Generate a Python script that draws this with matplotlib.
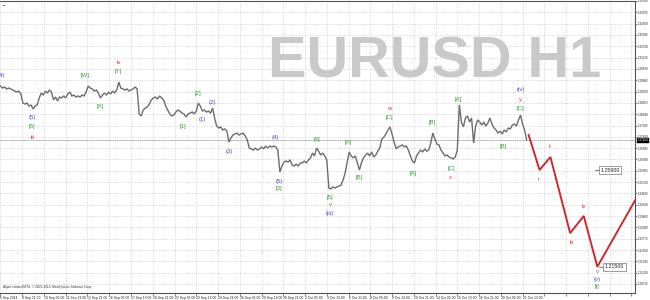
import numpy as np
import matplotlib
matplotlib.use("Agg")
import matplotlib.pyplot as plt
from matplotlib.transforms import blended_transform_factory

# ---------------- data (EURUSD H1, one value every 3 hourly bars) ----------------
close = [
    1.2972, 1.2963, 1.2968, 1.2959, 1.2963, 1.2959, 1.2954, 1.2949, 1.2945, 1.2949,
    1.2936, 1.2895, 1.2890, 1.2895, 1.2881, 1.2886, 1.2868, 1.2881, 1.2886, 1.2918,
    1.2940, 1.2931, 1.2949, 1.2940, 1.2954, 1.2945, 1.2909, 1.2922, 1.2904, 1.2922,
    1.2918, 1.2927, 1.2918, 1.2936, 1.2945, 1.2927, 1.2931, 1.2922, 1.2927, 1.2922,
    1.2931, 1.2927, 1.2945, 1.2972, 1.2963, 1.2959, 1.2949, 1.2954, 1.2940, 1.2918,
    1.2931, 1.2940, 1.2931, 1.2945, 1.2936, 1.2949, 1.2940, 1.2954, 1.2990, 1.2963,
    1.2959, 1.2954, 1.2959, 1.2949, 1.2954, 1.2959, 1.2968, 1.2959, 1.2845, 1.2836,
    1.2863, 1.2872, 1.2877, 1.2890, 1.2909, 1.2918, 1.2922, 1.2913, 1.2927, 1.2918,
    1.2909, 1.2881, 1.2863, 1.2845, 1.2836, 1.2840, 1.2854, 1.2863, 1.2858, 1.2849,
    1.2845, 1.2831, 1.2845, 1.2849, 1.2854, 1.2845, 1.2858, 1.2895, 1.2881, 1.2858,
    1.2863, 1.2854, 1.2858, 1.2849, 1.2872, 1.2827, 1.2790, 1.2781, 1.2786, 1.2772,
    1.2777, 1.2767, 1.2717, 1.2736, 1.2749, 1.2754, 1.2758, 1.2749, 1.2754, 1.2758,
    1.2745, 1.2727, 1.2690, 1.2686, 1.2681, 1.2690, 1.2681, 1.2686, 1.2695, 1.2686,
    1.2699, 1.2690, 1.2699, 1.2695, 1.2699, 1.2695, 1.2681, 1.2581, 1.2608, 1.2626,
    1.2631, 1.2626, 1.2636, 1.2613, 1.2608, 1.2617, 1.2608, 1.2622, 1.2622, 1.2631,
    1.2622, 1.2636, 1.2645, 1.2667, 1.2654, 1.2690, 1.2676, 1.2658, 1.2667, 1.2654,
    1.2636, 1.2508, 1.2504, 1.2513, 1.2508, 1.2513, 1.2517, 1.2522, 1.2545, 1.2576,
    1.2626, 1.2672, 1.2654, 1.2645, 1.2654, 1.2622, 1.2590, 1.2622, 1.2645, 1.2658,
    1.2667, 1.2654, 1.2672, 1.2649, 1.2658, 1.2676, 1.2690, 1.2731, 1.2740, 1.2754,
    1.2772, 1.2786, 1.2754, 1.2717, 1.2686, 1.2695, 1.2699, 1.2704, 1.2695, 1.2699,
    1.2681, 1.2654, 1.2631, 1.2622, 1.2654, 1.2667, 1.2681, 1.2672, 1.2686, 1.2676,
    1.2681, 1.2713, 1.2758, 1.2731, 1.2708, 1.2704, 1.2681, 1.2667, 1.2654, 1.2658,
    1.2649, 1.2645, 1.2640, 1.2649, 1.2681, 1.2886, 1.2808, 1.2786, 1.2827, 1.2836,
    1.2808, 1.2827, 1.2713, 1.2790, 1.2818, 1.2808, 1.2795, 1.2808, 1.2790, 1.2804,
    1.2827, 1.2799, 1.2781, 1.2772, 1.2758, 1.2767, 1.2754, 1.2772, 1.2763, 1.2781,
    1.2777, 1.2795, 1.2799, 1.2790, 1.2818, 1.2840, 1.2799, 1.2772, 1.2727,
]
bar_step = 3
bars = np.arange(len(close)) * bar_step

bid_price = 1.2726

# projected wave path (bar index, price)
proj_bars = [777, 793, 809, 838, 858, 878, 940]
proj_prices = [1.2749, 1.2590, 1.2649, 1.2303, 1.2381, 1.2150, 1.2487]

# price labels
target_prices = [1.25900, 1.21500]
target_bars = [874, 881]

# wave labels
wave_names = ["(4)", "(5)", "[5]", "iii", "[W]", "[X]", "[Y]", "iv", "[1]", "[2]",
              "(1)", "(2)", "(3)", "(4)", "(5)", "[3]", "[4]", "[5]", "v", "(iii)",
              "[A]", "[B]", "[C]", "w", "[A]", "[B]", "[C]", "x", "[A]", "[B]",
              "[C]", "y", "(iv)", "i", "ii", "iii", "iv", "v", "(v)", "[i]"]
wave_bars = [1, 47, 47, 47, 125, 147, 174, 174, 269, 290,
             297, 312, 337, 405, 410, 410, 465, 485, 485, 485,
             512, 528, 572, 572, 608, 635, 663, 662, 674, 740,
             765, 765, 765, 791, 809, 840, 858, 878, 878, 878]
wave_prices = [1.3018, 1.2831, 1.2786, 1.2740, 1.3022, 1.2877, 1.3036, 1.3081, 1.2786, 1.2940,
               1.2822, 1.2899, 1.2672, 1.2740, 1.2540, 1.2504, 1.2731, 1.2467, 1.2431, 1.2394,
               1.2713, 1.2554, 1.2827, 1.2868, 1.2572, 1.2804, 1.2599, 1.2558, 1.2913, 1.2695,
               1.2868, 1.2911, 1.2956, 1.2549, 1.2695, 1.2262, 1.2422, 1.2130, 1.2094, 1.2058]
wave_degree = ["b", "b", "g", "r", "g", "g", "g", "r", "g", "g",
               "b", "b", "b", "b", "b", "g", "g", "g", "r", "b",
               "g", "g", "g", "r", "g", "g", "g", "r", "g", "g",
               "g", "r", "b", "r", "o", "r", "r", "r", "b", "g"]

y_ticks = [1.33590, 1.33075, 1.32560, 1.32045, 1.31530, 1.31015, 1.30500, 1.29985,
           1.29470, 1.28955, 1.28440, 1.27925, 1.27410, 1.26895, 1.26380, 1.25865,
           1.25350, 1.24835, 1.24320, 1.23805, 1.23290, 1.22775, 1.22260, 1.21745,
           1.21230, 1.20715]

x_labels = ["5 Sep 2014", "8 Sep 21:00", "10 Sep 05:00", "11 Sep 13:00", "12 Sep 21:00",
            "16 Sep 05:00", "17 Sep 13:00", "18 Sep 21:00", "22 Sep 05:00", "23 Sep 13:00",
            "24 Sep 21:00", "26 Sep 05:00", "29 Sep 13:00", "30 Sep 21:00", "2 Oct 05:00",
            "3 Oct 13:00", "6 Oct 21:00", "8 Oct 05:00", "9 Oct 13:00", "10 Oct 21:00",
            "14 Oct 05:00", "15 Oct 13:00", "16 Oct 21:00", "20 Oct 05:00", "21 Oct 13:00"]
label_every = 32

# ---------------- style ----------------
plt.rcParams['font.family'] = ['Liberation Sans', 'DejaVu Sans']
colors = {"b": "#4646d8", "g": "#3a9e3a", "r": "#cc3c3c", "o": "#e67a52"}
grid_c = "#cacaca"
axis_c = "#555555"

fig = plt.figure(figsize=(6.5, 3.0), dpi=100)
fig.patch.set_facecolor("white")
ax = fig.add_axes([0.0, 7 / 300, 635 / 650, 292 / 300])
ax.set_facecolor("white")

x_max = 933.4
ax.set_xlim(-0.7, x_max)
ax.set_ylim(1.20304, 1.33590)

# watermark
ax.text(268 / 650, 1 - 78 / 300, "EURUSD H1", transform=fig.transFigure,
        fontsize=41.5, fontweight="bold", color="#c9c9c9", ha="left",
        va="baseline", zorder=0.5)

# grid
xt = np.arange(0, x_max, label_every)
ax.set_xticks(xt)
ax.set_xticklabels(x_labels + [""] * (len(xt) - len(x_labels)), ha="left")
ax.set_yticks(y_ticks)
ax.set_yticklabels(["%.5f" % v for v in y_ticks])
ax.grid(True, color=grid_c, linestyle=(0, (1, 1.5)), linewidth=0.6, zorder=1)
ax.set_axisbelow(True)

# bid line
ax.axhline(bid_price, color="#c0c0c0", linewidth=0.7, zorder=1.5)

# price
ax.plot(bars, close, color="#6c6c6c", linewidth=1.0, zorder=3,
        solid_joinstyle="miter")

# projection
ax.plot(proj_bars, proj_prices, color="#cc2a2a", linewidth=1.4, zorder=4,
        solid_joinstyle="miter")

# price level labels
for tp, tb in zip(target_prices, target_bars):
    ax.plot([tb, tb + 6], [tp, tp], color="#666666", linewidth=0.6, zorder=4)
    ax.text(tb + 8, tp, "%.5f" % tp, fontsize=3.8, color="#222222", ha="left",
            va="center", zorder=5,
            bbox=dict(boxstyle="square,pad=0.25", fc="white", ec="#8c8c8c", lw=0.6))

# wave labels
for name, b, p, d in zip(wave_names, wave_bars, wave_prices, wave_degree):
    ax.text(b, p, name, fontsize=4.3, color=colors[d], ha="center", va="center",
            zorder=5, clip_on=True)

# spines and ticks
ax.spines["left"].set_visible(False)
for s in ("top", "right", "bottom"):
    ax.spines[s].set_color(axis_c)
    ax.spines[s].set_linewidth(0.8)
ax.yaxis.tick_right()
ax.tick_params(axis="y", direction="out", length=1.5, width=0.5, colors=axis_c,
               labelsize=2.2, labelcolor="#222222", pad=0.4)
ax.tick_params(axis="x", direction="out", length=2, width=0.5, colors=axis_c,
               labelsize=2.4, labelcolor="#222222", pad=0.5)

# current price box on the axis
trans = blended_transform_factory(ax.transAxes, ax.transData)
ax.text(1.004, bid_price, "%.5f" % bid_price, transform=trans, fontsize=2.2,
        color="white", ha="left", va="center", clip_on=False, zorder=6,
        bbox=dict(boxstyle="square,pad=0.15", fc="black", ec="black", lw=0.3))

# copyright + corner mark
ax.text(0.004, 0.012, "Alpari Limited MT4, \u00a9 2001-2013, MetaQuotes Software Corp.",
        transform=ax.transAxes, fontsize=2.3, color="#333333", ha="left",
        va="bottom", zorder=6)
ax.text(0.004, 0.997, "-", transform=ax.transAxes, fontsize=5, color="#222222",
        ha="left", va="top", zorder=6, fontweight="bold")

fig.savefig("out.png", dpi=100, facecolor="white")
